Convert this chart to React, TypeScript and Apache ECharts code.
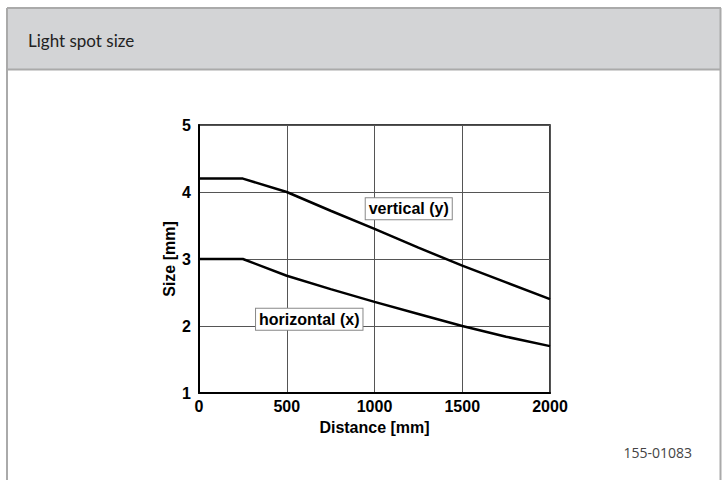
import React, { useEffect, useRef } from "react";
import * as echarts from "echarts";

const distances = [0, 250, 500, 750, 1000, 1250, 1500, 1750, 2000];
const verticalY = [4.2, 4.2, 4.0, 3.72, 3.45, 3.17, 2.9, 2.65, 2.4];
const horizontalX = [3.0, 3.0, 2.75, 2.55, 2.36, 2.18, 2.0, 1.84, 1.7];
const xTicks = [0, 500, 1000, 1500, 2000];
const yTicks = [1, 2, 3, 4, 5];
const title = "Light spot size";
const code = "155-01083";
const labels = [
  { text: "vertical (y)", x: 950, y: 3.75 },
  { text: "horizontal (x)", x: 325, y: 2.1 },
];

export default function App() {
  const ref = useRef<HTMLDivElement>(null);
  useEffect(() => {
    document.body.style.margin = "0";
    const chart = echarts.init(ref.current!, null, { renderer: "svg" });
    const font = "'Liberation Sans', Arial, sans-serif";
    chart.setOption({
      animation: false,
      grid: { left: 199, right: 178, top: 125, bottom: 87, show: true, borderColor: "#000", borderWidth: 1.5 },
      xAxis: {
        type: "value",
        min: xTicks[0],
        max: xTicks[xTicks.length - 1],
        interval: 500,
        name: "Distance [mm]",
        nameLocation: "middle",
        nameGap: 26,
        nameTextStyle: { fontFamily: font, fontWeight: "bold", fontSize: 16, color: "#000" },
        axisLine: { lineStyle: { color: "#000", width: 2 } },
        axisTick: { show: false },
        axisLabel: { fontFamily: font, fontWeight: "bold", fontSize: 16, color: "#000", margin: 5, formatter: (v: number) => String(v) },
        splitLine: { lineStyle: { color: "#555", width: 1 } },
      },
      yAxis: {
        type: "value",
        min: yTicks[0],
        max: yTicks[yTicks.length - 1],
        interval: 1,
        name: "Size [mm]",
        nameLocation: "middle",
        nameGap: 22,
        nameTextStyle: { fontFamily: font, fontWeight: "bold", fontSize: 16, color: "#000" },
        axisLine: { show: true, lineStyle: { color: "#000", width: 2 } },
        axisTick: { show: false },
        axisLabel: { fontFamily: font, fontWeight: "bold", fontSize: 16, color: "#000", margin: 8 },
        splitLine: { lineStyle: { color: "#555", width: 1 } },
      },
      series: [
        {
          type: "line",
          data: distances.map((d, i) => [d, verticalY[i]]),
          showSymbol: false,
          lineStyle: { color: "#000", width: 2.5 },
          z: 3,
        },
        {
          type: "line",
          data: distances.map((d, i) => [d, horizontalX[i]]),
          showSymbol: false,
          lineStyle: { color: "#000", width: 2.5 },
          z: 3,
          markPoint: {
            symbol: "rect",
            symbolSize: 0,
            data: labels.map((l) => ({
              coord: [l.x, l.y],
              label: {
                show: true,
                formatter: l.text,
                position: "right",
                distance: 0,
                fontFamily: font,
                fontWeight: "bold",
                fontSize: 16,
                color: "#000",
                backgroundColor: "#fff",
                borderColor: "#888",
                borderWidth: 1,
                padding: [3, 3, 2, 3],
              },
            })),
          },
        },
      ],
      graphic: [
        { type: "rect", shape: { x: 7, y: 8, width: 713, height: 61 }, style: { fill: "#d3d4d6", stroke: "none" }, z: -10 },
        { type: "line", shape: { x1: 7, y1: 8, x2: 721, y2: 8 }, style: { stroke: "#aaa", lineWidth: 2 } },
        { type: "line", shape: { x1: 7, y1: 69.5, x2: 721, y2: 69.5 }, style: { stroke: "#aaa", lineWidth: 2 } },
        { type: "line", shape: { x1: 7, y1: 8, x2: 7, y2: 480 }, style: { stroke: "#aaa", lineWidth: 2 } },
        { type: "line", shape: { x1: 720.5, y1: 8, x2: 720.5, y2: 480 }, style: { stroke: "#aaa", lineWidth: 2 } },
        {
          type: "text",
          x: 28,
          y: 40,
          style: { text: title, fontFamily: "Lato, 'Open Sans', sans-serif", fontSize: 17, fill: "#222", verticalAlign: "middle" },
        },
        {
          type: "text",
          x: 692,
          y: 452,
          style: { text: code, fontFamily: "'Open Sans', sans-serif", fontSize: 14, fill: "#444", align: "right", verticalAlign: "middle" },
        },
      ],
    });
    return () => chart.dispose();
  }, []);
  return <div ref={ref} style={{ width: 728, height: 480 }} />;
}
